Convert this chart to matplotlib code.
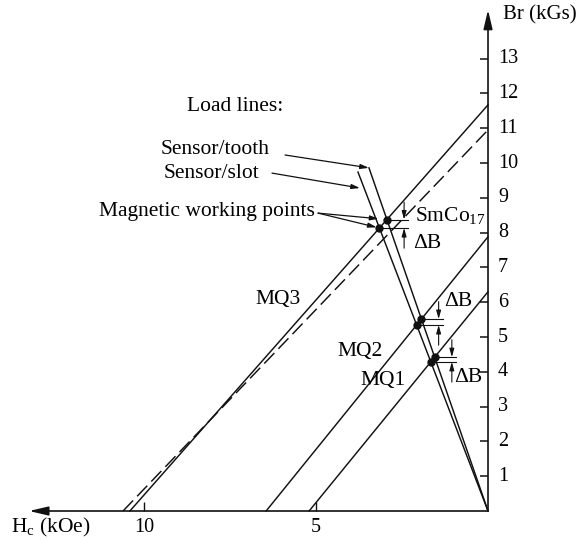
import matplotlib
matplotlib.use("Agg")
import matplotlib.pyplot as plt

plt.rcParams["font.family"] = ["Liberation Serif", "DejaVu Serif"]
plt.rcParams["mathtext.fontset"] = "custom"
plt.rcParams["mathtext.rm"] = "Liberation Serif"
plt.rcParams["mathtext.it"] = "Liberation Serif:italic"

# Demagnetization lines (second quadrant): remanence Br (kGs), coercivity Hc (kOe)
magnet_names = ["MQ1", "MQ2", "MQ3", "SmCo17"]
magnet_br = [6.30, 7.88, 11.67, 10.95]
magnet_hc = [5.20, 6.45, 10.41, 10.61]
magnet_dashed = [False, False, False, True]
# magnets whose working points are marked on the load lines
working_magnets = ["MQ1", "MQ2", "MQ3"]

# Load lines start at the origin and end at (H, B)
load_names = ["Sensor/tooth", "Sensor/slot"]
load_end_h = [3.46, 3.78]
load_end_b = [9.86, 9.74]

y_ticks = list(range(1, 14))
x_ticks = [10, 5]

LW = 1.05
INK = "#111111"
FS_LABEL = 15.5
FS_TICK = 14.5

fig = plt.figure(figsize=(5.8, 5.41), dpi=100)
ax = fig.add_axes([0, 0, 1, 1])
ax.set_xlim(14.186, -2.674)   # H grows to the left
ax.set_ylim(-0.862, 14.684)
ax.axis("off")

head = "-|>,head_length=1.15,head_width=0.27"
# H axis (to the left) and B axis (upwards)
ax.annotate("", xy=(13.34, 0), xytext=(0, 0),
            arrowprops=dict(arrowstyle=head, mutation_scale=10, lw=1.2,
                            color=INK, shrinkA=0, shrinkB=0))
ax.annotate("", xy=(0, 14.40), xytext=(0, 0),
            arrowprops=dict(arrowstyle=head, mutation_scale=10, lw=1.2,
                            color=INK, shrinkA=0, shrinkB=0))

for b in y_ticks:
    ax.plot([0, 0.233], [b, b], color=INK, lw=1.1, solid_capstyle="butt")
    ax.text(-0.29, b, str(b), fontsize=FS_TICK, ha="left", va="center")
for h in x_ticks:
    ax.plot([h, h], [0, 0.26], color=INK, lw=1.0, solid_capstyle="butt")
    ax.text(h, -0.46, str(h), fontsize=FS_TICK, ha="center", va="center")

ax.text(-0.44, 14.25, "Br (kGs)", fontsize=15, ha="left", va="center")
ax.text(13.87, -0.46, r"H$_\mathrm{c}$ (kOe)", fontsize=FS_LABEL,
        ha="left", va="center")

# Magnet lines
for name, br, hc, dashed in zip(magnet_names, magnet_br, magnet_hc, magnet_dashed):
    ax.plot([hc, 0], [0, br], color=INK, lw=LW,
            linestyle=(0, (10, 4)) if dashed else "-")

# Load lines
for h, b in zip(load_end_h, load_end_b):
    ax.plot([0, h], [0, b], color=INK, lw=LW)


def working_point(br, hc, h_end, b_end):
    k = b_end / h_end
    h = br / (k + br / hc)
    return h, k * h


small = "-|>,head_length=0.5,head_width=0.14"

# Working points and the Delta-B markers
for name in working_magnets:
    i = magnet_names.index(name)
    pts = [working_point(magnet_br[i], magnet_hc[i], h, b)
           for h, b in zip(load_end_h, load_end_b)]
    (h_up, b_up), (h_lo, b_lo) = sorted(pts, key=lambda p: -p[1])
    h_end = h_up - 0.62
    for h, b in pts:
        ax.plot([h, h_end], [b, b], color=INK, lw=0.8)
        ax.plot([h], [b], "o", color=INK, ms=5)
    h_arr = h_end + 0.12
    ax.annotate("", xy=(h_arr, b_up), xytext=(h_arr, b_up + 0.5),
                arrowprops=dict(arrowstyle=small, mutation_scale=10, lw=0.8,
                                color=INK, shrinkA=0, shrinkB=0))
    ax.annotate("", xy=(h_arr, b_lo), xytext=(h_arr, b_lo - 0.58),
                arrowprops=dict(arrowstyle=small, mutation_scale=10, lw=0.8,
                                color=INK, shrinkA=0, shrinkB=0))

# Labels
ax.text(8.75, 11.61, "Load lines:", fontsize=FS_LABEL, ha="left", va="center")
ax.text(6.34, 10.40, "Sensor/tooth", fontsize=FS_LABEL, ha="right", va="center")
ax.text(6.66, 9.71, "Sensor/slot", fontsize=FS_LABEL, ha="right", va="center")
ax.text(5.03, 8.62, "Magnetic working points", fontsize=FS_LABEL,
        ha="right", va="center")
ax.text(2.12, 8.48, r"SmCo$_{17}$", fontsize=FS_LABEL, ha="left", va="center")
ax.text(2.18, 7.70, "ΔB", fontsize=FS_LABEL, ha="left", va="center")
ax.text(6.77, 6.09, "MQ3", fontsize=FS_LABEL, ha="left", va="center")
ax.text(4.39, 4.57, "MQ2", fontsize=FS_LABEL, ha="left", va="center")
ax.text(3.72, 3.74, "MQ1", fontsize=FS_LABEL, ha="left", va="center")
ax.text(1.28, 6.01, "ΔB", fontsize=FS_LABEL, ha="left", va="center")
ax.text(0.99, 3.85, "ΔB", fontsize=FS_LABEL, ha="left", va="center")

pointer = dict(arrowstyle=small, mutation_scale=10, lw=0.9, color=INK,
               shrinkA=0, shrinkB=0)
ax.annotate("", xy=(load_end_h[0], load_end_b[0]), xytext=(5.90, 10.23),
            arrowprops=pointer)
ax.annotate("", xy=(3.72, 9.28), xytext=(6.28, 9.71), arrowprops=pointer)

# Pointers from the working-points label to the MQ3 points
i3 = magnet_names.index("MQ3")
for (h, b), gap in zip([working_point(magnet_br[i3], magnet_hc[i3], lh, lb)
                        for lh, lb in zip(load_end_h, load_end_b)], [6, 2]):
    ax.annotate("", xy=(h, b), xytext=(4.94, 8.56),
                arrowprops=dict(pointer, shrinkB=gap))

fig.savefig("out.png", dpi=100, facecolor="white")
